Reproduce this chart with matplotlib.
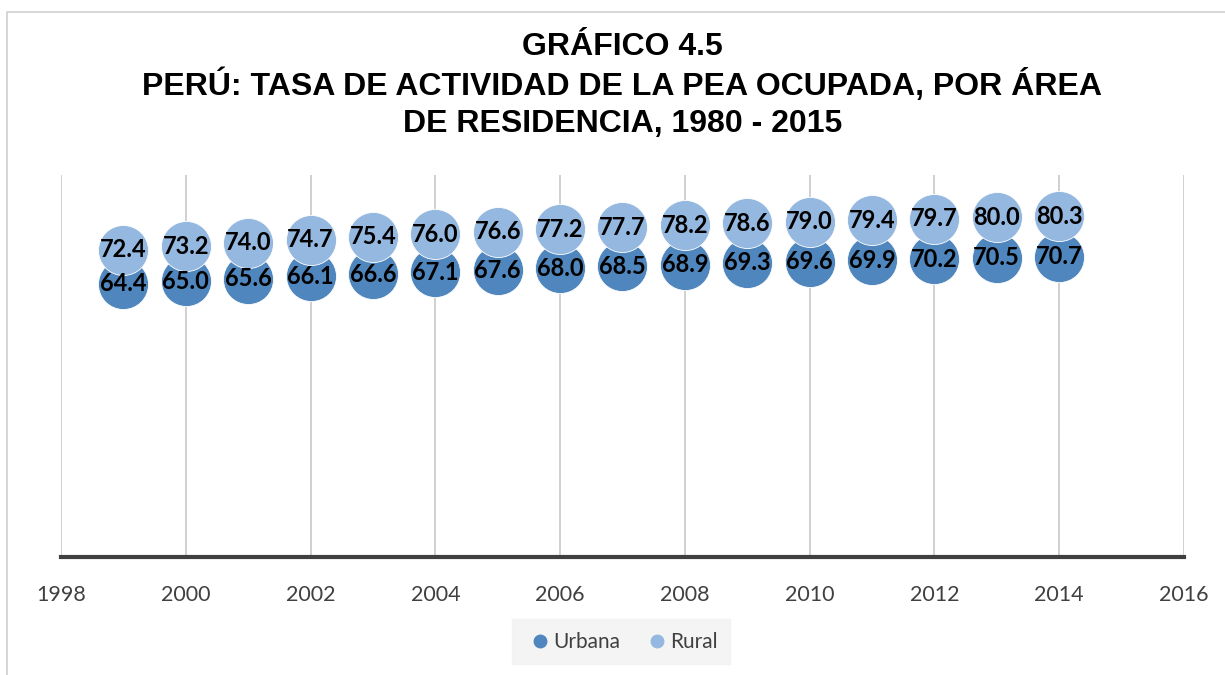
import matplotlib.pyplot as plt
from matplotlib.lines import Line2D
from matplotlib.patches import Rectangle

# data
years = [1999, 2000, 2001, 2002, 2003, 2004, 2005, 2006,
         2007, 2008, 2009, 2010, 2011, 2012, 2013, 2014]
urbana = [64.4, 65.0, 65.6, 66.1, 66.6, 67.1, 67.6, 68.0,
          68.5, 68.9, 69.3, 69.6, 69.9, 70.2, 70.5, 70.7]
rural = [72.4, 73.2, 74.0, 74.7, 75.4, 76.0, 76.6, 77.2,
         77.7, 78.2, 78.6, 79.0, 79.4, 79.7, 80.0, 80.3]
x_ticks = list(range(1998, 2017, 2))

title = "GRÁFICO 4.5\nPERÚ: TASA DE ACTIVIDAD DE LA PEA OCUPADA, POR ÁREA\nDE RESIDENCIA, 1980 - 2015"

c_urb = "#4F86BD"
c_rur = "#95B8E0"
txt_gray = "#404040"

fig = plt.figure(figsize=(12.25, 6.75), dpi=100)
ax = fig.add_axes([0.0498, 0.1748, 0.9167, 0.5659])

# chart area border
fig.patches.append(Rectangle((0.0057, -0.01), 1.0, 0.9926, transform=fig.transFigure,
                             fill=False, edgecolor="#D0D0D0", lw=1.2))

ax.scatter(years, urbana, s=1300, color=c_urb, edgecolor="white", linewidth=0.6, zorder=3)
ax.scatter(years, rural, s=1300, color=c_rur, edgecolor="white", linewidth=0.6, zorder=4)

for x, u, r in zip(years, urbana, rural):
    ax.text(x, u, f"{u:.1f}", ha="center", va="center", fontsize=17,
            fontweight="bold", family="Lato", color="black", zorder=5)
    ax.text(x, r, f"{r:.1f}", ha="center", va="center", fontsize=17,
            fontweight="bold", family="Lato", color="black", zorder=5)

ax.set_xlim(1998, 2016)
ax.set_ylim(0, 90)
ax.set_xticks(x_ticks)
ax.set_xticklabels([str(t) for t in x_ticks], fontsize=15.5, family="Lato", color=txt_gray)
ax.tick_params(axis="x", length=0, pad=20)
ax.set_yticks([])
ax.grid(axis="x", color="#C8C8C8", lw=1.2, zorder=0)

for side in ["top", "right", "left"]:
    ax.spines[side].set_visible(False)
ax.spines["bottom"].set_color("#404040")
ax.spines["bottom"].set_linewidth(3)

fig.text(0.508, 0.953, title, ha="center", va="top", fontsize=23,
         fontweight="bold", family="Liberation Sans", linespacing=1.27)

handles = [Line2D([], [], marker="o", ls="", color=c_urb, markersize=9),
           Line2D([], [], marker="o", ls="", color=c_rur, markersize=9)]
leg = fig.legend(handles, ["Urbana", "Rural"], loc="center", bbox_to_anchor=(0.507, 0.049),
                 ncol=2, frameon=True, fancybox=False, handletextpad=-0.1, columnspacing=1.0,
                 borderpad=0.6, handlelength=1.5, prop={"family": "Lato", "size": 15})
leg.get_frame().set_facecolor("#F2F2F2")
leg.get_frame().set_edgecolor("#F2F2F2")
for t in leg.get_texts():
    t.set_color(txt_gray)

fig.savefig("out.png", dpi=100)
